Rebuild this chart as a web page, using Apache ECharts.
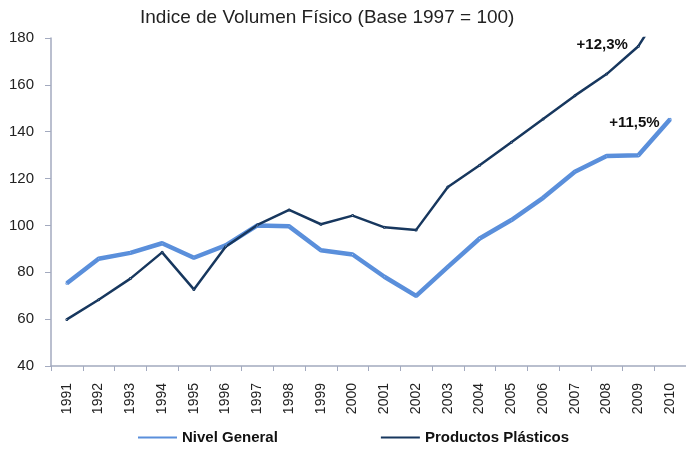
<!DOCTYPE html>
<html>
<head>
    <meta charset="utf-8">
    <title>Indice de Volumen Físico</title>
    <script src="https://cdn.jsdelivr.net/npm/echarts@6/dist/echarts.min.js"></script>
    <style>
        html, body { margin: 0; padding: 0; background: #fff; }
    </style>
</head>
<body>
    <div id="main" style="width: 686px;height:451px;"></div>
    <script type="text/javascript">
// datos
var years = ['1991', '1992', '1993', '1994', '1995', '1996', '1997', '1998', '1999', '2000',
             '2001', '2002', '2003', '2004', '2005', '2006', '2007', '2008', '2009', '2010'];
var nivelGeneral = [75.3, 85.8, 88.3, 92.4, 86.2, 91.5, 100, 99.6, 89.4, 87.6,
                    78.1, 69.9, 82.3, 94.4, 102.3, 111.8, 122.9, 129.6, 130.0, 145.3];
var productosPlasticos = [59.9, 68.3, 77.3, 88.5, 72.7, 90.9, 100.2, 106.6, 100.5, 104.2,
                          99.2, 98.1, 116.4, 125.7, 135.5, 145.4, 155.4, 164.6, 176.5, 198];
var seriesNames = ['Nivel General', 'Productos Plásticos'];
// texto de crecimiento y el año donde se pone
var growthText = ['+11,5%', '+12,3%'];
var growthIndex = [19, 18];

var FONT = 'Liberation Sans, Arial, sans-serif';
var myChart = echarts.init(document.getElementById('main'));

function withLabel(values, idx, text, dy) {
    return values.map(function (v, i) {
        if (i !== idx) return v;
        return {
            value: v,
            label: {
                show: true,
                formatter: text,
                position: 'left',
                distance: 9,
                offset: [0, dy],
                fontFamily: FONT,
                fontSize: 15,
                fontWeight: 'bold',
                color: '#111'
            }
        };
    });
}

var option = {
    animation: false,
    title: {
        text: 'Indice de Volumen Físico (Base 1997 = 100)',
        left: 135,
        top: 3,
        textStyle: { fontFamily: FONT, fontSize: 19, fontWeight: 'normal', color: '#222' }
    },
    legend: {
        data: seriesNames,
        left: 138,
        top: 430,
        padding: 0,
        icon: 'rect',
        itemWidth: 39,
        itemHeight: 2,
        itemGap: 103,
        textStyle: { fontFamily: FONT, fontSize: 15, fontWeight: 'bold', color: '#111' }
    },
    grid: {
        left: 51,
        right: 0,
        top: 38,
        bottom: 85,
        containLabel: false,
        outerBoundsMode: 'none'
    },
    xAxis: {
        type: 'category',
        data: years,
        boundaryGap: true,
        axisLine: { lineStyle: { color: '#A3AABF', width: 1.5 } },
        axisTick: { show: true, length: 5, lineStyle: { color: '#A3AABF' } },
        axisLabel: { rotate: 90, margin: 17, fontFamily: FONT, fontSize: 14, color: '#222' },
        splitLine: { show: false }
    },
    yAxis: {
        type: 'value',
        min: 40,
        max: 180,
        interval: 20,
        axisLine: { show: true, lineStyle: { color: '#A3AABF', width: 1.5 } },
        axisTick: { show: true, length: 6, lineStyle: { color: '#A3AABF' } },
        axisLabel: { margin: 17, fontFamily: FONT, fontSize: 15, color: '#222' },
        splitLine: { show: false }
    },
    series: [
        {
            name: seriesNames[0],
            type: 'line',
            data: withLabel(nivelGeneral, growthIndex[0], growthText[0], 4),
            showSymbol: true,
            symbolSize: 1,
            itemStyle: { color: '#5A8FDB' },
            lineStyle: { color: '#5A8FDB', width: 4.5 }
        },
        {
            name: seriesNames[1],
            type: 'line',
            data: withLabel(productosPlasticos, growthIndex[1], growthText[1], -1),
            showSymbol: true,
            symbolSize: 1,
            clip: true,
            itemStyle: { color: '#17375E' },
            lineStyle: { color: '#17375E', width: 2.5 }
        }
    ]
};
myChart.setOption(option);
    </script>
</body>
</html>
